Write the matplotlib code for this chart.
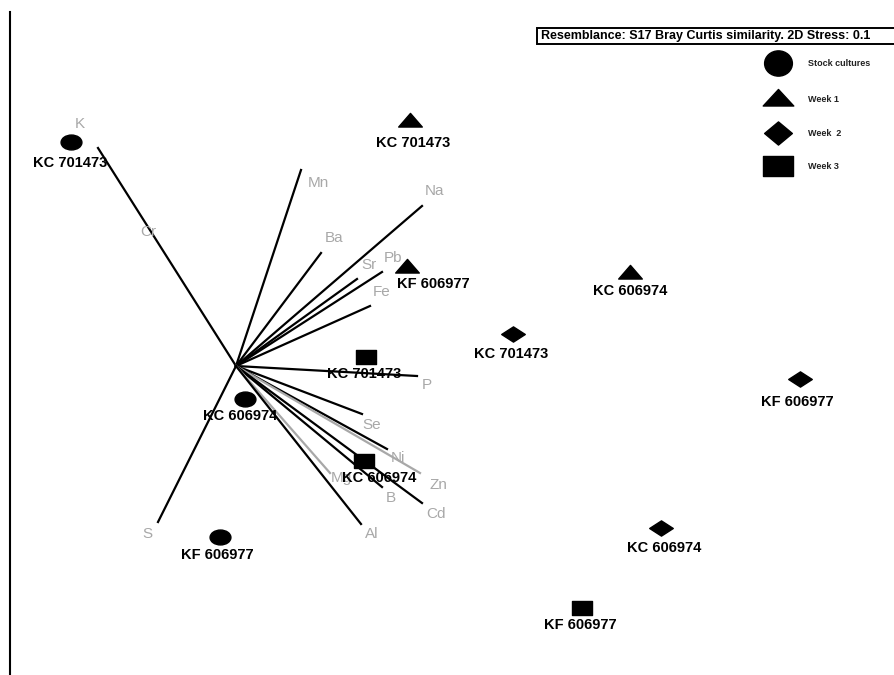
import numpy as np
import matplotlib.pyplot as plt
from matplotlib.path import Path
from matplotlib.patches import Rectangle
from matplotlib.transforms import Affine2D

plt.rcParams['font.family'] = ['Liberation Sans', 'DejaVu Sans']

# nMDS sample scores (MDS1, MDS2)
groups = ["Stock cultures", "Week 1", "Week  2", "Week 3"]

stock_x = [-1.65, 0.09, -0.16]
stock_y = [2.24, -0.33, -1.71]
week1_x = [1.74, 3.94, 1.71]
week1_y = [2.44, 0.92, 0.98]
week2_x = [2.77, 4.25, 5.64]
week2_y = [0.32, -1.62, -0.13]
week3_x = [1.30, 1.28, 3.46]
week3_y = [0.09, -0.95, -2.42]

# order of strains for each group
stock_names = ["KC 701473", "KC 606974", "KF 606977"]
week1_names = ["KC 701473", "KC 606974", "KF 606977"]
week2_names = ["KC 701473", "KC 606974", "KF 606977"]
week3_names = ["KC 701473", "KC 606974", "KF 606977"]

# element vectors (end points, start at origin)
elements = ["K", "Mn", "Na", "Ba", "Sr", "Pb", "Fe", "P", "Se", "Ni", "Zn",
            "Cd", "B", "Mg", "Al", "S"]
vec_x = [-1.38, 0.65, 1.86, 0.85, 1.21, 1.46, 1.34, 1.81, 1.26, 1.51, 1.84,
         1.86, 1.46, 0.94, 1.25, -0.78]
vec_y = [2.18, 1.96, 1.60, 1.13, 0.87, 0.94, 0.60, -0.10, -0.48, -0.83, -1.07,
         -1.37, -1.21, -1.07, -1.58, -1.56]
vec_grey = ["Zn", "Mg"]


def stretched(path, sx):
    return path.transformed(Affine2D().scale(sx, 1.0))


circle_p = Path.unit_circle()
tri_p = Path.unit_regular_polygon(3)
diamond_p = Path([(0, 1), (1, 0), (0, -1), (-1, 0), (0, 1)], [1, 2, 2, 2, 79])
square_p = Path([(-1, -1), (1, -1), (1, 1), (-1, 1), (-1, -1)], [1, 2, 2, 2, 79])

fig = plt.figure(figsize=(8.95, 6.75), dpi=100)
ax = fig.add_axes([0, 0, 1, 1])
ax.set_xlim(-2.36, 6.59)
ax.set_ylim(-3.09, 3.66)
ax.axis('off')

# left border
ax.plot([-2.26, -2.26], [-3.09, 3.54], color='black', lw=1.5)

# vectors
for name, vx, vy in zip(elements, vec_x, vec_y):
    col = '#a8a8a8' if name in vec_grey else 'black'
    ax.plot([0, vx], [0, vy], color=col, lw=1.6, zorder=2)

# vector labels (offset from tips)
lab_dx = {"K": -0.18, "Mn": 0.17, "Na": 0.12, "Ba": 0.13, "Sr": 0.12,
          "Pb": 0.11, "Fe": 0.12, "P": 0.10, "Se": 0.10, "Ni": 0.11,
          "Zn": 0.18, "Cd": 0.14, "B": 0.09, "Mg": 0.11, "Al": 0.11, "S": -0.11}
lab_dy = {"K": 0.24, "Mn": -0.13, "Na": 0.15, "Ba": 0.15, "Sr": 0.14,
          "Pb": 0.14, "Fe": 0.14, "P": -0.09, "Se": -0.11, "Ni": -0.09,
          "Zn": -0.12, "Cd": -0.11, "B": -0.11, "Mg": -0.05, "Al": -0.10, "S": -0.12}
for name, vx, vy in zip(elements, vec_x, vec_y):
    ax.text(vx + lab_dx[name], vy + lab_dy[name], name, color='#a8a8a8',
            fontsize=11, ha='center', va='center', zorder=3)
ax.text(-0.88, 1.34, "Cr", color='#a8a8a8', fontsize=11, ha='center',
        va='center', zorder=3)

# samples
sets = [(stock_x, stock_y, stock_names, stretched(circle_p, 1.4), 15),
        (week1_x, week1_y, week1_names, stretched(tri_p, 1.5), 17),
        (week2_x, week2_y, week2_names, stretched(diamond_p, 1.55), 17),
        (week3_x, week3_y, week3_names, stretched(square_p, 1.5), 15)]
lab_off = {(0, "KC 701473"): (-0.01, -0.21), (0, "KC 606974"): (-0.05, -0.17),
           (0, "KF 606977"): (-0.03, -0.18),
           (1, "KC 701473"): (0.03, -0.21), (1, "KF 606977"): (0.26, -0.16),
           (1, "KC 606974"): (0.00, -0.17),
           (2, "KC 701473"): (-0.02, -0.20), (2, "KF 606977"): (-0.03, -0.23),
           (2, "KC 606974"): (0.03, -0.20),
           (3, "KC 701473"): (-0.02, -0.17), (3, "KC 606974"): (0.15, -0.17),
           (3, "KF 606977"): (-0.02, -0.17)}
for gi, (xs, ys, names, mk, ms) in enumerate(sets):
    ax.plot(xs, ys, ls='none', marker=mk, markersize=ms, color='black', zorder=4)
    for x, y, n in zip(xs, ys, names):
        dx, dy = lab_off[(gi, n)]
        ax.text(x + dx, y + dy, n, fontsize=10.5, fontweight='bold',
                ha='center', va='center', zorder=5)

# legend
leg_x = 5.42
leg_y = [3.03, 2.66, 2.33, 2.00]
leg_mk = [stretched(circle_p, 1.1), stretched(tri_p, 1.6),
          stretched(diamond_p, 1.2), stretched(square_p, 1.4)]
leg_ms = [20, 22, 20, 21]
for g, yy, mk, ms in zip(groups, leg_y, leg_mk, leg_ms):
    ax.plot([leg_x], [yy], marker=mk, markersize=ms, color='black', ls='none')
    ax.text(leg_x + 0.30, yy, g, fontsize=6.5, fontweight='bold', va='center',
            ha='left', color='#222222')

ax.add_patch(Rectangle((3.01, 3.22), 3.6, 0.16, fc='white', ec='black', lw=1.4,
                       zorder=6))
ax.text(3.05, 3.30, "Resemblance: S17 Bray Curtis similarity. 2D Stress: 0.1",
        fontsize=9, fontweight='bold', va='center', ha='left', zorder=7)

fig.savefig("out.png", dpi=100)
